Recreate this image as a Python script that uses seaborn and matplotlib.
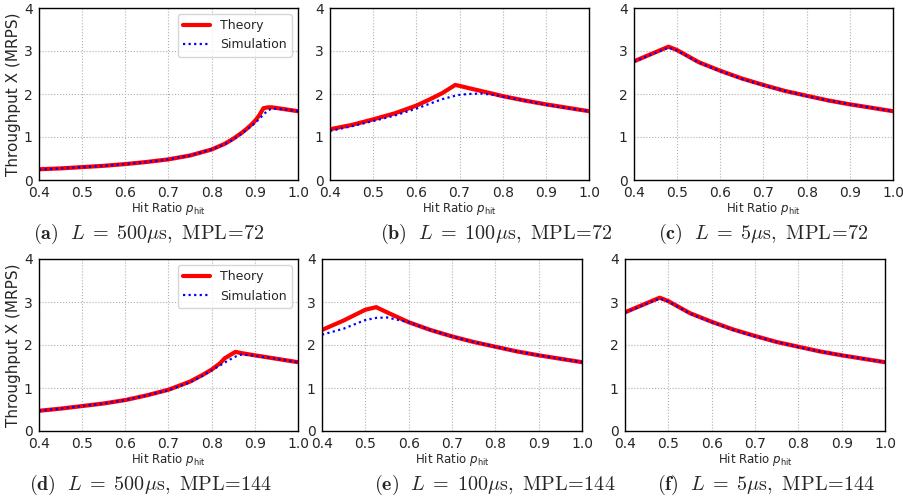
"""
Throughput vs hit ratio: theory vs simulation, six panels.
"""

import matplotlib
matplotlib.use("Agg")
import matplotlib.pyplot as plt
import pandas as pd
import seaborn as sns

# ── data ──
P_A = [0.40, 0.45, 0.50, 0.55, 0.60, 0.65, 0.70, 0.75, 0.80, 0.83, 0.85, 0.87,
       0.88, 0.89, 0.90, 0.91, 0.92, 0.93, 0.94, 0.96, 0.98, 1.00]
THEORY_A = [0.25, 0.27, 0.30, 0.33, 0.37, 0.42, 0.48, 0.57, 0.71, 0.84, 0.96, 1.10,
            1.18, 1.27, 1.37, 1.50, 1.67, 1.69, 1.69, 1.66, 1.63, 1.60]
SIM_A = [0.24, 0.27, 0.30, 0.33, 0.37, 0.42, 0.48, 0.57, 0.71, 0.83, 0.94, 1.08,
         1.16, 1.24, 1.32, 1.42, 1.52, 1.62, 1.66, 1.65, 1.63, 1.60]

P_B = [0.40, 0.45, 0.50, 0.55, 0.60, 0.63, 0.66, 0.69, 0.70, 0.72, 0.75, 0.78,
       0.80, 0.85, 0.90, 0.95, 1.00]
THEORY_B = [1.18, 1.28, 1.41, 1.55, 1.73, 1.87, 2.02, 2.21, 2.19, 2.14, 2.07, 2.00,
            1.95, 1.85, 1.76, 1.68, 1.60]
SIM_B = [1.14, 1.25, 1.37, 1.50, 1.66, 1.77, 1.88, 1.96, 1.98, 2.00, 2.01, 1.98,
         1.94, 1.85, 1.75, 1.67, 1.60]

P_C = [0.40, 0.44, 0.48, 0.50, 0.55, 0.60, 0.65, 0.70, 0.75, 0.80, 0.85, 0.90,
       0.95, 1.00]
THEORY_C = [2.76, 2.93, 3.10, 3.02, 2.74, 2.54, 2.36, 2.21, 2.07, 1.96, 1.85, 1.76,
            1.68, 1.60]
SIM_C = [2.75, 2.92, 3.08, 3.01, 2.73, 2.53, 2.35, 2.20, 2.07, 1.95, 1.85, 1.76,
         1.68, 1.60]

P_D = [0.40, 0.45, 0.50, 0.55, 0.60, 0.65, 0.70, 0.75, 0.78, 0.80, 0.82, 0.83,
       0.84, 0.855, 0.87, 0.90, 0.95, 1.00]
THEORY_D = [0.47, 0.52, 0.58, 0.64, 0.72, 0.83, 0.96, 1.15, 1.31, 1.43, 1.58, 1.69,
            1.75, 1.84, 1.81, 1.76, 1.68, 1.60]
SIM_D = [0.47, 0.52, 0.58, 0.64, 0.72, 0.83, 0.95, 1.13, 1.29, 1.41, 1.53, 1.59,
         1.65, 1.73, 1.78, 1.75, 1.68, 1.60]

P_E = [0.40, 0.45, 0.50, 0.525, 0.55, 0.60, 0.65, 0.70, 0.75, 0.80, 0.85, 0.90,
       0.95, 1.00]
THEORY_E = [2.35, 2.57, 2.82, 2.88, 2.76, 2.53, 2.35, 2.20, 2.07, 1.96, 1.85, 1.76,
            1.68, 1.60]
SIM_E = [2.24, 2.38, 2.58, 2.63, 2.64, 2.53, 2.35, 2.20, 2.07, 1.96, 1.85, 1.76,
         1.68, 1.60]

P_F = P_C
THEORY_F = THEORY_C
SIM_F = SIM_C

CAPTIONS = [
    r"$\mathbf{(a)}\ \ L\;=\;500\mu\mathrm{s},\ \mathrm{MPL}\!=\!72$",
    r"$\mathbf{(b)}\ \ L\;=\;100\mu\mathrm{s},\ \mathrm{MPL}\!=\!72$",
    r"$\mathbf{(c)}\ \ L\;=\;5\mu\mathrm{s},\ \mathrm{MPL}\!=\!72$",
    r"$\mathbf{(d)}\ \ L\;=\;500\mu\mathrm{s},\ \mathrm{MPL}\!=\!144$",
    r"$\mathbf{(e)}\ \ L\;=\;100\mu\mathrm{s},\ \mathrm{MPL}\!=\!144$",
    r"$\mathbf{(f)}\ \ L\;=\;5\mu\mathrm{s},\ \mathrm{MPL}\!=\!144$",
]

PANELS = [
    (P_A, THEORY_A, SIM_A),
    (P_B, THEORY_B, SIM_B),
    (P_C, THEORY_C, SIM_C),
    (P_D, THEORY_D, SIM_D),
    (P_E, THEORY_E, SIM_E),
    (P_F, THEORY_F, SIM_F),
]

# ── layout (pixel boxes of the reference, 904x500) ──
W, H = 904, 500
AX_BOXES = [  # left, top, right, bottom
    (39, 8, 298, 180), (330, 8, 589, 180), (634, 8, 893, 180),
    (39, 259, 298, 431), (322, 259, 582, 431), (625, 259, 885, 431),
]
CAPTION_POS = [(149, 234), (496, 234), (763, 234), (151, 485), (495, 485), (766, 485)]

sns.set_style("whitegrid", {
    "axes.edgecolor": "black",
    "grid.color": "#b0b0b0",
    "grid.linestyle": ":",
})
plt.rcParams["font.family"] = ["DejaVu Sans"]
plt.rcParams["mathtext.fontset"] = "dejavusans"

fig = plt.figure(figsize=(W / 100, H / 100), dpi=100)

for i, ((p, theory, sim), box) in enumerate(zip(PANELS, AX_BOXES)):
    l, t, r, b = box
    ax = fig.add_axes([l / W, 1 - b / H, (r - l) / W, (b - t) / H])
    df = pd.DataFrame({"p": p, "theory": theory, "sim": sim})
    sns.lineplot(data=df, x="p", y="theory", ax=ax, color="red", lw=3,
                 label="Theory", estimator=None)
    sns.lineplot(data=df, x="p", y="sim", ax=ax, color="blue", lw=1.6,
                 linestyle=(0, (1, 1.5)), label="Simulation", estimator=None)
    ax.set_xlim(0.4, 1.0)
    ax.set_ylim(0, 4)
    ax.set_xticks([0.4, 0.5, 0.6, 0.7, 0.8, 0.9, 1.0])
    ax.set_yticks([0, 1, 2, 3, 4])
    ax.tick_params(labelsize=10, pad=1)
    ax.grid(True, linewidth=0.8)
    for s in ax.spines.values():
        s.set_linewidth(1.0)
    ax.set_xlabel(r"Hit Ratio $p_{\mathrm{hit}}$", fontsize=8.5, labelpad=0)
    if i % 3 == 0:
        ax.set_ylabel("Throughput X (MRPS)", fontsize=11, labelpad=2)
        ax.legend(loc="upper right", fontsize=9, frameon=True, handlelength=2.2)
    else:
        ax.set_ylabel("")
        ax.get_legend().remove()

for cap, (cx, cy) in zip(CAPTIONS, CAPTION_POS):
    fig.text(cx / W, 1 - cy / H, cap, ha="center", va="center", fontsize=14.5,
             math_fontfamily="cm")

fig.savefig("out.png", dpi=100)
plt.close(fig)
